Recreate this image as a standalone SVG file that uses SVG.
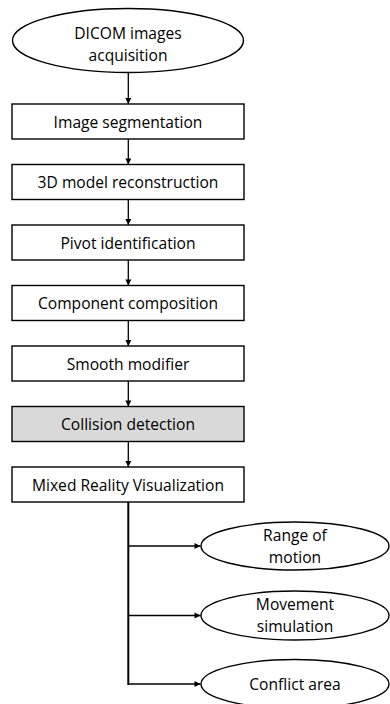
<svg xmlns="http://www.w3.org/2000/svg" width="390" height="704" viewBox="0 0 390 704">
<style>
.n{fill:#fff;stroke:#000;stroke-width:1.4}
.g{fill:#d9d9d9}
text{font-family:"Open Sans","Noto Sans","Liberation Sans",sans-serif;font-size:15.6px;fill:#000;text-anchor:middle}
.c{fill:none;stroke:#000;stroke-width:1.3}
.t{stroke-width:2}
</style>
<defs>
<marker id="ah" markerUnits="userSpaceOnUse" markerWidth="8" markerHeight="8" refX="7" refY="4" orient="auto">
<path d="M1,1 L7,4 L1,7 Z" fill="#000"/>
</marker>
</defs>
<g id="connectors">
<path class="c" d="M128.3,72.5 V104" marker-end="url(#ah)"/>
<path class="c" d="M128.3,139 V164.5" marker-end="url(#ah)"/>
<path class="c" d="M128.3,199.5 V225" marker-end="url(#ah)"/>
<path class="c" d="M128.3,260 V285.5" marker-end="url(#ah)"/>
<path class="c" d="M128.3,320.5 V346" marker-end="url(#ah)"/>
<path class="c" d="M128.3,381 V406.5" marker-end="url(#ah)"/>
<path class="c" d="M128.3,441.5 V467" marker-end="url(#ah)"/>
<path class="c t" d="M128.3,502 V685"/>
<path class="c" d="M128.3,546 H200.5" marker-end="url(#ah)"/>
<path class="c" d="M128.3,615.5 H200.5" marker-end="url(#ah)"/>
<path class="c" d="M128.3,684 H200.5" marker-end="url(#ah)"/>
</g>
<g id="dicom">
<ellipse class="n" cx="128" cy="40.5" rx="115.5" ry="32"/>
<text x="128" y="39">DICOM images</text>
<text x="128" y="60.5">acquisition</text>
</g>
<g id="segmentation">
<rect class="n" x="12" y="104" width="232" height="35"/>
<text x="128" y="127.5">Image segmentation</text>
</g>
<g id="reconstruction">
<rect class="n" x="12" y="164.5" width="232" height="35"/>
<text x="128" y="188">3D model reconstruction</text>
</g>
<g id="pivot">
<rect class="n" x="12" y="225" width="232" height="35"/>
<text x="128" y="248.5">Pivot identification</text>
</g>
<g id="composition">
<rect class="n" x="12" y="285.5" width="232" height="35"/>
<text x="128" y="309">Component composition</text>
</g>
<g id="smooth">
<rect class="n" x="12" y="346" width="232" height="35"/>
<text x="128" y="369.5">Smooth modifier</text>
</g>
<g id="collision">
<rect class="n g" x="12" y="406.5" width="232" height="35"/>
<text x="128" y="430">Collision detection</text>
</g>
<g id="mr">
<rect class="n" x="12" y="467" width="232" height="35"/>
<text x="128" y="490.5">Mixed Reality Visualization</text>
</g>
<g id="range">
<ellipse class="n" cx="295" cy="546" rx="94" ry="24"/>
<text x="295" y="540.5">Range of</text>
<text x="295" y="562.5">motion</text>
</g>
<g id="movement">
<ellipse class="n" cx="295" cy="615.5" rx="94" ry="24.5"/>
<text x="295" y="610">Movement</text>
<text x="295" y="631.5">simulation</text>
</g>
<g id="conflict">
<ellipse class="n" cx="295" cy="684" rx="94" ry="24.5"/>
<text x="295" y="690">Conflict area</text>
</g>
</svg>
